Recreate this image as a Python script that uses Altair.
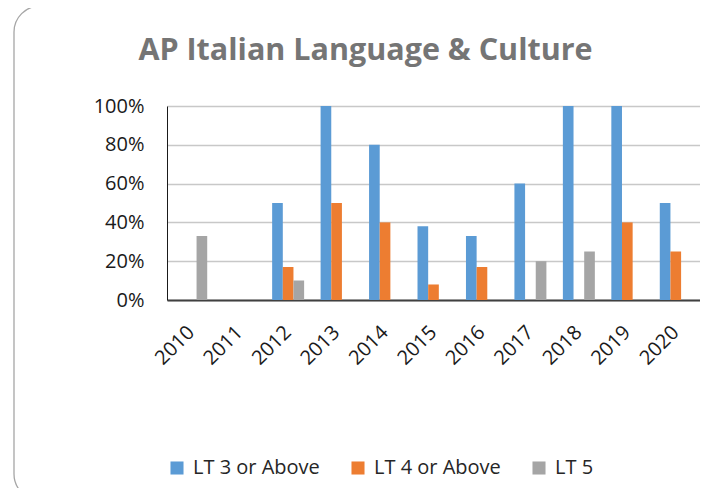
import altair as alt
import pandas as pd

years = ["2010", "2011", "2012", "2013", "2014", "2015", "2016", "2017", "2018", "2019", "2020"]
series = ["LT 3 or Above", "LT 4 or Above", "LT 5"]
lt3 = [0, 0, 0.50, 1.00, 0.80, 0.38, 0.33, 0.60, 1.00, 1.00, 0.50]
lt4 = [0, 0, 0.17, 0.50, 0.40, 0.08, 0.17, 0, 0, 0.40, 0.25]
lt5 = [0.33, 0, 0.10, 0, 0, 0, 0, 0.20, 0.25, 0, 0]
colors = ["#5B9BD5", "#ED7D31", "#A5A5A5"]

rows = []
for s, vals in zip(series, [lt3, lt4, lt5]):
    for y, v in zip(years, vals):
        rows.append({"year": y, "series": s, "value": v})
df = pd.DataFrame(rows)

FONT = "Open Sans"

frame = alt.Chart(alt.Data(values=[{}])).mark_rect(
    fill="transparent", stroke="#a6a6a6", strokeWidth=1.3, cornerRadius=26
).encode(
    x=alt.value(-153), x2=alt.value(560), y=alt.value(-100), y2=alt.value(394)
)

bars = alt.Chart(df).mark_bar().encode(
    x=alt.X("year:N", sort=years,
            scale=alt.Scale(domain=years, paddingInner=0.34, paddingOuter=0.17),
            axis=alt.Axis(title=None, labelAngle=-45, labelAlign="right", labelBaseline="middle",
                          labelFont=FONT, labelFontSize=20, labelColor="#1a1a1a",
                          labelPadding=29, ticks=False, tickSize=0, grid=False,
                          domainColor="#404040", domainWidth=1.8)),
    xOffset=alt.XOffset("series:N", sort=series, scale=alt.Scale(domain=series, paddingInner=0, paddingOuter=0)),
    y=alt.Y("value:Q", scale=alt.Scale(domain=[0, 1], nice=False),
            axis=alt.Axis(title=None, values=[0, 0.2, 0.4, 0.6, 0.8, 1.0], format=".0%",
                          labelFont=FONT, labelFontSize=20, labelColor="#1a1a1a",
                          labelPadding=23, ticks=False, tickSize=0,
                          gridColor="#c8c8c8", gridWidth=1.3,
                          domainColor="#1a1a1a", domainWidth=1)),
    color=alt.Color("series:N", sort=series,
                    scale=alt.Scale(domain=series, range=colors),
                    legend=alt.Legend(orient="none", legendX=0, legendY=352, direction="horizontal",
                                      title=None, symbolType="square", symbolSize=170,
                                      symbolStrokeWidth=0, labelFont=FONT, labelFontSize=20,
                                      labelColor="#262626", columnPadding=28, labelOffset=6)),
)

chart = alt.layer(frame, bars).properties(
    width=533, height=194,
    title=alt.Title("AP Italian Language & Culture", font=FONT, fontSize=30.5, fontWeight="bold",
                    color="#757575", anchor="middle", dx=-68, baseline="alphabetic", offset=-85),
    padding={"left": 159, "top": 98, "right": 0, "bottom": 188},
    autosize=alt.AutoSizeParams(type="none"),
).configure_view(strokeWidth=0)

chart.save("out.html", embed_options={"renderer": "svg", "actions": False})
